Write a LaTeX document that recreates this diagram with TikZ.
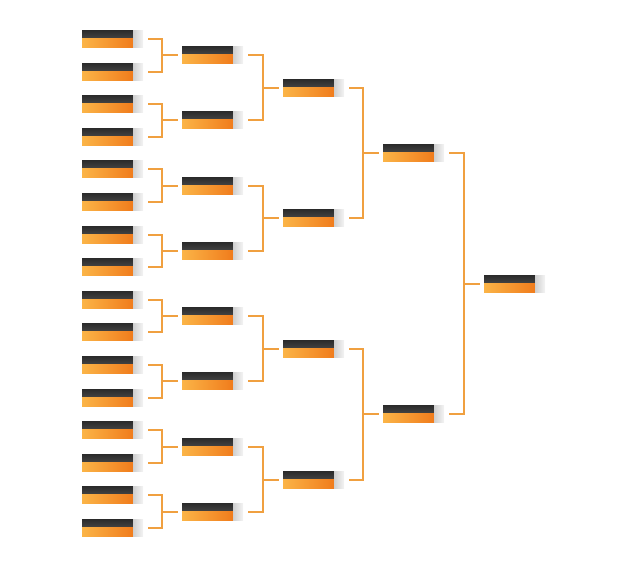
\documentclass[tikz,border=0pt]{standalone}
\definecolor{dkA}{HTML}{2C2C2C}
\definecolor{dkB}{HTML}{5E5E5E}
\definecolor{orA}{HTML}{FBB447}
\definecolor{orB}{HTML}{F07C1C}
\definecolor{gyA}{HTML}{CFCFCF}
\definecolor{gyB}{HTML}{F4F4F4}
\definecolor{ln}{HTML}{F0A040}
\begin{document}
\begin{tikzpicture}[x=1pt,y=-1pt,
  slot/.style={minimum width=61pt, minimum height=16.6pt, inner sep=0pt, outer sep=0pt, anchor=west,
    path picture={
      \fill[top color=dkA,bottom color=dkB] (path picture bounding box.north west) rectangle ([xshift=-10pt,yshift=0.6pt]path picture bounding box.east);
      \fill[left color=orA,right color=orB] ([yshift=0.6pt]path picture bounding box.west) rectangle ([xshift=-10pt]path picture bounding box.south east);
      \fill[left color=gyA,right color=gyB] ([xshift=-10pt]path picture bounding box.north east) rectangle (path picture bounding box.south east);
    }},
  conn/.style={draw=ln, line width=1.6pt}]
\useasboundingbox (0,0) rectangle (626,569);
\foreach \y [count=\i from 0] in {39,72,104,137,169,202,235,267,300,332,365,398,430,463,495,528}
  \node[slot] (a\i) at (82,\y) {};
\foreach \y [count=\i from 0] in {55,120,186,251,316,381,447,512}
  \node[slot] (b\i) at (182,\y) {};
\foreach \y [count=\i from 0] in {88,218,349,480}
  \node[slot] (c\i) at (283,\y) {};
\foreach \y [count=\i from 0] in {153,414}
  \node[slot] (d\i) at (383,\y) {};
\node[slot] (e0) at (484,284) {};
\newcommand{\brk}[3]{%
  \coordinate (kk) at ([xshift=-20pt]#3.west);
  \draw[conn] ([xshift=5pt]#1.east) -| (kk) |- ([xshift=5pt]#2.east);
  \draw[conn] (kk) -- ([xshift=-4pt]#3.west);}
\foreach \i [evaluate=\i as \j using int(2*\i), evaluate=\i as \k using int(2*\i+1)] in {0,...,7} {\brk{a\j}{a\k}{b\i}}
\foreach \i [evaluate=\i as \j using int(2*\i), evaluate=\i as \k using int(2*\i+1)] in {0,...,3} {\brk{b\j}{b\k}{c\i}}
\foreach \i [evaluate=\i as \j using int(2*\i), evaluate=\i as \k using int(2*\i+1)] in {0,1} {\brk{c\j}{c\k}{d\i}}
\brk{d0}{d1}{e0}
\end{tikzpicture}
\end{document}
